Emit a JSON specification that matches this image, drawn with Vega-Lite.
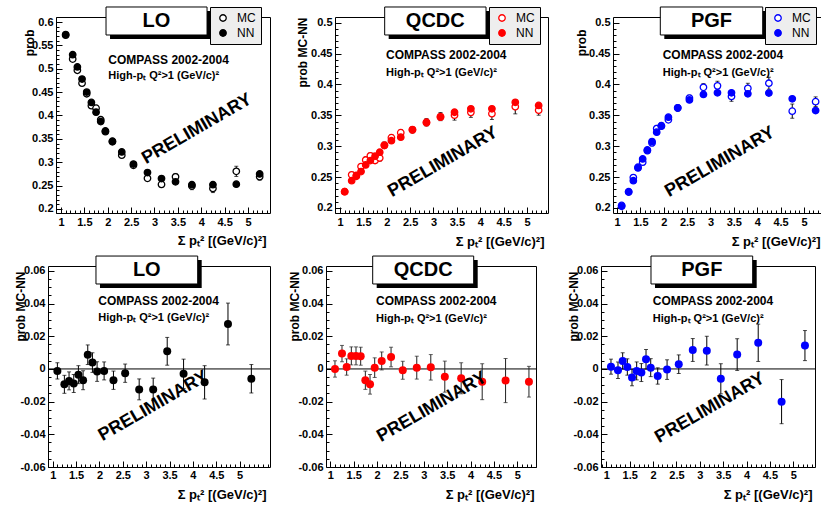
{
"$schema": "https://vega.github.io/schema/vega-lite/v6.json",
"padding": {"left": 13, "top": 5, "right": 0, "bottom": 0},
"background": "white",
"config": {
 "view": {"stroke": "black", "strokeWidth": 1},
 "font": "Liberation Sans",
 "axis": {"format": "~g", "tickColor": "black", "tickWidth": 1, "labelPadding": 9, "labelFont": "Liberation Sans", "labelFontWeight": "bold", "labelFontSize": 11, "labelColor": "black", "labelFlush": false, "domain": false, "grid": false, "titleFont": "Liberation Sans", "titleFontWeight": "bold", "titleColor": "black", "titleBaseline": "middle", "titleAlign": "right"},
 "axisX": {"titleFontSize": 13, "labelPadding": 9},
 "axisY": {"titleFontSize": 12, "titleAngle": 270}
},
"datasets": {
"lo": [
{"x":1.1,"s":"MC","v":0.5718,"e":0.0043},{"x":1.25,"s":"MC","v":0.5206,"e":0.0047},{"x":1.35,"s":"MC","v":0.4967,"e":0.0047},{"x":1.45,"s":"MC","v":0.4691,"e":0.0047},{"x":1.55,"s":"MC","v":0.4465,"e":0.0047},{"x":1.65,"s":"MC","v":0.4211,"e":0.0049},{"x":1.75,"s":"MC","v":0.4157,"e":0.0051},{"x":1.85,"s":"MC","v":0.3909,"e":0.0051},{"x":1.95,"s":"MC","v":0.3654,"e":0.0051},{"x":2.1,"s":"MC","v":0.3438,"e":0.0047},{"x":2.3,"s":"MC","v":0.3151,"e":0.0048},{"x":2.55,"s":"MC","v":0.2934,"e":0.0048},{"x":2.85,"s":"MC","v":0.2655,"e":0.0054},{"x":3.15,"s":"MC","v":0.2525,"e":0.0059},{"x":3.45,"s":"MC","v":0.2688,"e":0.0072},{"x":3.8,"s":"MC","v":0.249,"e":0.0077},{"x":4.25,"s":"MC","v":0.2438,"e":0.0087},{"x":4.75,"s":"MC","v":0.2805,"e":0.0109},{"x":5.25,"s":"MC","v":0.269,"e":0.0074},
{"x":1.1,"s":"NN","v":0.573},{"x":1.25,"s":"NN","v":0.53},{"x":1.35,"s":"NN","v":0.504},{"x":1.45,"s":"NN","v":0.478},{"x":1.55,"s":"NN","v":0.45},{"x":1.65,"s":"NN","v":0.428},{"x":1.75,"s":"NN","v":0.407},{"x":1.85,"s":"NN","v":0.387},{"x":1.95,"s":"NN","v":0.367},{"x":2.1,"s":"NN","v":0.345},{"x":2.3,"s":"NN","v":0.322},{"x":2.55,"s":"NN","v":0.296},{"x":2.85,"s":"NN","v":0.278},{"x":3.15,"s":"NN","v":0.265},{"x":3.45,"s":"NN","v":0.258},{"x":3.8,"s":"NN","v":0.252},{"x":4.25,"s":"NN","v":0.252},{"x":4.75,"s":"NN","v":0.253},{"x":5.25,"s":"NN","v":0.275}
],
"qcdc": [
{"x":1.1,"s":"MC","v":0.2265,"e":0.0043},{"x":1.25,"s":"MC","v":0.2537,"e":0.0043},{"x":1.35,"s":"MC","v":0.2526,"e":0.0043},{"x":1.45,"s":"MC","v":0.267,"e":0.0047},{"x":1.55,"s":"MC","v":0.2777,"e":0.0047},{"x":1.65,"s":"MC","v":0.2845,"e":0.0047},{"x":1.75,"s":"MC","v":0.2769,"e":0.0048},{"x":1.85,"s":"MC","v":0.2809,"e":0.0051},{"x":1.95,"s":"MC","v":0.3018,"e":0.0051},{"x":2.1,"s":"MC","v":0.3139,"e":0.0047},{"x":2.3,"s":"MC","v":0.3219,"e":0.0051},{"x":2.55,"s":"MC","v":0.3262,"e":0.0047},{"x":2.85,"s":"MC","v":0.3388,"e":0.006},{"x":3.15,"s":"MC","v":0.348,"e":0.0066},{"x":3.45,"s":"MC","v":0.3503,"e":0.0081},{"x":3.8,"s":"MC","v":0.3548,"e":0.0081},{"x":4.25,"s":"MC","v":0.3527,"e":0.0094},{"x":4.75,"s":"MC","v":0.3639,"e":0.0115},{"x":5.25,"s":"MC","v":0.3582,"e":0.008},
{"x":1.1,"s":"NN","v":0.2265},{"x":1.25,"s":"NN","v":0.2443},{"x":1.35,"s":"NN","v":0.2514},{"x":1.45,"s":"NN","v":0.259},{"x":1.55,"s":"NN","v":0.2697},{"x":1.65,"s":"NN","v":0.2767},{"x":1.75,"s":"NN","v":0.2838},{"x":1.85,"s":"NN","v":0.2903},{"x":1.95,"s":"NN","v":0.301},{"x":2.1,"s":"NN","v":0.309},{"x":2.3,"s":"NN","v":0.3146},{"x":2.55,"s":"NN","v":0.327},{"x":2.85,"s":"NN","v":0.338},{"x":3.15,"s":"NN","v":0.347},{"x":3.45,"s":"NN","v":0.355},{"x":3.8,"s":"NN","v":0.3605},{"x":4.25,"s":"NN","v":0.3605},{"x":4.75,"s":"NN","v":0.371},{"x":5.25,"s":"NN","v":0.366}
],
"pgf": [
{"x":1.1,"s":"MC","v":0.2041,"e":0.0039},{"x":1.25,"s":"MC","v":0.2257,"e":0.0043},{"x":1.35,"s":"MC","v":0.2492,"e":0.0043},{"x":1.45,"s":"MC","v":0.2661,"e":0.0043},{"x":1.55,"s":"MC","v":0.2742,"e":0.0043},{"x":1.65,"s":"MC","v":0.2928,"e":0.0047},{"x":1.75,"s":"MC","v":0.3054,"e":0.0047},{"x":1.85,"s":"MC","v":0.3286,"e":0.0051},{"x":1.95,"s":"MC","v":0.3332,"e":0.0047},{"x":2.1,"s":"MC","v":0.3427,"e":0.0043},{"x":2.3,"s":"MC","v":0.3618,"e":0.0051},{"x":2.55,"s":"MC","v":0.3779,"e":0.0048},{"x":2.85,"s":"MC","v":0.3954,"e":0.006},{"x":3.15,"s":"MC","v":0.3977,"e":0.0075},{"x":3.45,"s":"MC","v":0.3805,"e":0.0078},{"x":3.8,"s":"MC","v":0.3937,"e":0.0082},{"x":4.25,"s":"MC","v":0.402,"e":0.0097},{"x":4.75,"s":"MC","v":0.3568,"e":0.0115},{"x":5.25,"s":"MC","v":0.3721,"e":0.0078},
{"x":1.1,"s":"NN","v":0.2027},{"x":1.25,"s":"NN","v":0.2265},{"x":1.35,"s":"NN","v":0.2443},{"x":1.45,"s":"NN","v":0.2649},{"x":1.55,"s":"NN","v":0.2795},{"x":1.65,"s":"NN","v":0.294},{"x":1.75,"s":"NN","v":0.3076},{"x":1.85,"s":"NN","v":0.3227},{"x":1.95,"s":"NN","v":0.3324},{"x":2.1,"s":"NN","v":0.347},{"x":2.3,"s":"NN","v":0.3622},{"x":2.55,"s":"NN","v":0.375},{"x":2.85,"s":"NN","v":0.3838},{"x":3.15,"s":"NN","v":0.3865},{"x":3.45,"s":"NN","v":0.3865},{"x":3.8,"s":"NN","v":0.3849},{"x":4.25,"s":"NN","v":0.386},{"x":4.75,"s":"NN","v":0.3768},{"x":5.25,"s":"NN","v":0.3578}
],
"lod": [
{"x":1.1,"d":-0.0012,"e":0.005},{"x":1.25,"d":-0.0094,"e":0.0055},{"x":1.35,"d":-0.0073,"e":0.0055},{"x":1.45,"d":-0.0089,"e":0.0055},{"x":1.55,"d":-0.0035,"e":0.0055},{"x":1.65,"d":-0.0069,"e":0.0058},{"x":1.75,"d":0.0087,"e":0.006},{"x":1.85,"d":0.0039,"e":0.006},{"x":1.95,"d":-0.0016,"e":0.006},{"x":2.1,"d":-0.0012,"e":0.0055},{"x":2.3,"d":-0.0069,"e":0.0056},{"x":2.55,"d":-0.0026,"e":0.0056},{"x":2.85,"d":-0.0125,"e":0.0064},{"x":3.15,"d":-0.0125,"e":0.0069},{"x":3.45,"d":0.0108,"e":0.0085},{"x":3.8,"d":-0.003,"e":0.009},{"x":4.25,"d":-0.0082,"e":0.0102},{"x":4.75,"d":0.0275,"e":0.0128},{"x":5.25,"d":-0.006,"e":0.0087}
],
"qcdcd": [
{"x":1.1,"d":0.0,"e":0.005},{"x":1.25,"d":0.0094,"e":0.005},{"x":1.35,"d":0.0012,"e":0.005},{"x":1.45,"d":0.008,"e":0.0055},{"x":1.55,"d":0.008,"e":0.0055},{"x":1.65,"d":0.0078,"e":0.0055},{"x":1.75,"d":-0.0069,"e":0.0056},{"x":1.85,"d":-0.0094,"e":0.006},{"x":1.95,"d":0.0008,"e":0.006},{"x":2.1,"d":0.0049,"e":0.0055},{"x":2.3,"d":0.0073,"e":0.006},{"x":2.55,"d":-0.0008,"e":0.0055},{"x":2.85,"d":0.0008,"e":0.007},{"x":3.15,"d":0.001,"e":0.0078},{"x":3.45,"d":-0.0047,"e":0.0095},{"x":3.8,"d":-0.0057,"e":0.0095},{"x":4.25,"d":-0.0078,"e":0.011},{"x":4.75,"d":-0.0071,"e":0.0135},{"x":5.25,"d":-0.0078,"e":0.0094}
],
"pgfd": [
{"x":1.1,"d":0.0014,"e":0.0046},{"x":1.25,"d":-0.0008,"e":0.005},{"x":1.35,"d":0.0049,"e":0.005},{"x":1.45,"d":0.0012,"e":0.005},{"x":1.55,"d":-0.0053,"e":0.005},{"x":1.65,"d":-0.0012,"e":0.0055},{"x":1.75,"d":-0.0022,"e":0.0055},{"x":1.85,"d":0.0059,"e":0.006},{"x":1.95,"d":0.0008,"e":0.0055},{"x":2.1,"d":-0.0043,"e":0.005},{"x":2.3,"d":-0.0004,"e":0.006},{"x":2.55,"d":0.0029,"e":0.0057},{"x":2.85,"d":0.0116,"e":0.007},{"x":3.15,"d":0.0112,"e":0.0088},{"x":3.45,"d":-0.006,"e":0.0092},{"x":3.8,"d":0.0088,"e":0.0097},{"x":4.25,"d":0.016,"e":0.0114},{"x":4.75,"d":-0.02,"e":0.0135},{"x":5.25,"d":0.0143,"e":0.0092}
]
},
"spacing": 6,
"resolve": {"scale": {"fill": "independent"}, "legend": {"fill": "independent"}},
"vconcat": [
{"bounds": "flush", "spacing": 0, "resolve": {"scale": {"fill": "independent"}, "legend": {"fill": "independent"}},
 "hconcat": [
 {"width": 8, "height": 196, "data": {"values": []}, "mark": "point", "encoding": {}, "view": {"stroke": null}},
 {"width": 214, "height": 196, "data": {"name": "lo"},
   "resolve": {"axis": {"x": "independent", "y": "independent"}},
   "layer": [
    {"transform": [{"filter": "datum.s == 'MC'"}],
     "mark": {"type": "errorbar", "color": "black", "thickness": 1, "ticks": {"size": 4}},
     "encoding": {"x": {"field": "x", "type": "quantitative", "scale": {"domain": [0.893, 5.471], "nice": false, "zero": false},
                        "axis": {"orient": "bottom", "values": [0.9,1,1.1,1.2,1.3,1.4,1.5,1.6,1.7,1.8,1.9,2,2.1,2.2,2.3,2.4,2.5,2.6,2.7,2.8,2.9,3,3.1,3.2,3.3,3.4,3.5,3.6,3.7,3.8,3.9,4,4.1,4.2,4.3,4.4,4.5,4.6,4.7,4.8,4.9,5,5.1,5.2,5.3,5.4], "labels": false, "title": null, "tickSize": -3}},
                  "y": {"field": "v", "type": "quantitative", "scale": {"domain": [0.1914, 0.6107], "nice": false, "zero": false},
                        "axis": {"orient": "left", "values": [0.2,0.21,0.22,0.23,0.24,0.25,0.26,0.27,0.28,0.29,0.3,0.31,0.32,0.33,0.34,0.35,0.36,0.37,0.38,0.39,0.4,0.41,0.42,0.43,0.44,0.45,0.46,0.47,0.48,0.49,0.5,0.51,0.52,0.53,0.54,0.55,0.56,0.57,0.58,0.59,0.6,0.61], "labels": false, "title": null, "tickSize": -3}},
                  "yError": {"field": "e"}}},
    {"mark": {"type": "point", "shape": "circle", "filled": true, "stroke": "black", "strokeWidth": 1.3, "size": 42, "opacity": 1},
     "encoding": {
      "x": {"field": "x", "type": "quantitative", "title": "Σ pₜ² [(GeV/c)²]", "scale": {"domain": [0.893, 5.471], "nice": false, "zero": false},
            "axis": {"orient": "bottom", "values": [1,1.5,2,2.5,3,3.5,4,4.5,5], "tickSize": -6, "titleX": 210, "titleY": 27}},
      "y": {"field": "v", "type": "quantitative", "title": "prob", "scale": {"domain": [0.1914, 0.6107], "nice": false, "zero": false},
            "axis": {"orient": "left", "values": [0.2,0.25,0.3,0.35,0.4,0.45,0.5,0.55,0.6], "tickSize": -6, "titleX": -27, "titleY": 12}},
      "fill": {"field": "s", "type": "nominal", "scale": {"domain": ["MC", "NN"], "range": ["white", "black"]},
               "legend": {"orient": "none", "legendX": 154, "legendY": -10, "title": null, "symbolType": "circle", "symbolSize": 42, "symbolStrokeColor": "black", "symbolStrokeWidth": 1.3, "labelFont": "Liberation Sans", "labelFontSize": 12, "labelColor": "black", "labelExpr": "datum.label + '\u00a0\u00a0\u00a0\u00a0\u00a0\u00a0'", "fillColor": "#eeeeee", "strokeColor": "black", "padding": 5, "rowPadding": 3, "labelOffset": 8, "symbolOffset": 2}}}},
    {"data": {"values": [{}]}, "mark": {"type": "rect", "fill": "black", "xOffset": 4, "x2Offset": 4, "yOffset": 4, "y2Offset": 4},
     "encoding": {"x": {"datum": 1.963, "type": "quantitative", "axis": null, "scale": {"domain": [0.893, 5.471], "nice": false, "zero": false}}, "x2": {"datum": 4.124}, "y": {"datum": 0.6321, "type": "quantitative", "axis": null, "scale": {"domain": [0.1914, 0.6107], "nice": false, "zero": false}}, "y2": {"datum": 0.5722}}},
    {"data": {"values": [{}]}, "mark": {"type": "rect", "fill": "white", "stroke": "black", "strokeWidth": 1},
     "encoding": {"x": {"datum": 1.963, "type": "quantitative", "axis": null, "scale": {"domain": [0.893, 5.471], "nice": false, "zero": false}}, "x2": {"datum": 4.124}, "y": {"datum": 0.6321, "type": "quantitative", "axis": null, "scale": {"domain": [0.1914, 0.6107], "nice": false, "zero": false}}, "y2": {"datum": 0.5722}}},
    {"data": {"values": [{}]}, "mark": {"type": "text", "font": "Liberation Sans", "fontWeight": "bold", "fontSize": 20, "color": "black", "align": "center", "baseline": "middle"},
     "encoding": {"x": {"datum": 3.043, "type": "quantitative", "axis": null, "scale": {"domain": [0.893, 5.471], "nice": false, "zero": false}}, "y": {"datum": 0.6021, "type": "quantitative", "axis": null, "scale": {"domain": [0.1914, 0.6107], "nice": false, "zero": false}}, "text": {"value": "LO"}}},
    {"data": {"values": [{}]}, "mark": {"type": "text", "font": "Liberation Sans", "fontWeight": "bold", "fontSize": 12, "color": "black", "align": "left", "baseline": "middle"},
     "encoding": {"x": {"datum": 2.012, "type": "quantitative", "axis": null, "scale": {"domain": [0.893, 5.471], "nice": false, "zero": false}}, "y": {"datum": 0.518, "type": "quantitative", "axis": null, "scale": {"domain": [0.1914, 0.6107], "nice": false, "zero": false}}, "text": {"value": "COMPASS 2002-2004"}}},
    {"data": {"values": [{}]}, "mark": {"type": "text", "font": "Liberation Sans", "fontWeight": "bold", "fontSize": 11, "color": "black", "align": "left", "baseline": "middle"},
     "encoding": {"x": {"datum": 2.012, "type": "quantitative", "axis": null, "scale": {"domain": [0.893, 5.471], "nice": false, "zero": false}}, "y": {"datum": 0.4845, "type": "quantitative", "axis": null, "scale": {"domain": [0.1914, 0.6107], "nice": false, "zero": false}}, "text": {"value": "High-pₜ Q²>1 (GeV/c)²"}}},
    {"data": {"values": [{}]}, "mark": {"type": "text", "font": "Liberation Sans", "fontWeight": "bold", "fontSize": 18, "color": "black", "align": "center", "baseline": "middle", "angle": 330},
     "encoding": {"x": {"datum": 3.91, "type": "quantitative", "axis": null, "scale": {"domain": [0.893, 5.471], "nice": false, "zero": false}}, "y": {"datum": 0.371, "type": "quantitative", "axis": null, "scale": {"domain": [0.1914, 0.6107], "nice": false, "zero": false}}, "text": {"value": "PRELIMINARY"}}}
   ]},
 {"width": 65, "height": 196, "data": {"values": []}, "mark": "point", "encoding": {}, "view": {"stroke": null}},
 {"width": 213, "height": 196, "data": {"name": "qcdc"},
   "resolve": {"axis": {"x": "independent", "y": "independent"}},
   "layer": [
    {"transform": [{"filter": "datum.s == 'MC'"}],
     "mark": {"type": "errorbar", "color": "black", "thickness": 1, "ticks": {"size": 4}},
     "encoding": {"x": {"field": "x", "type": "quantitative", "scale": {"domain": [0.893, 5.45], "nice": false, "zero": false},
                        "axis": {"orient": "bottom", "values": [0.9,1,1.1,1.2,1.3,1.4,1.5,1.6,1.7,1.8,1.9,2,2.1,2.2,2.3,2.4,2.5,2.6,2.7,2.8,2.9,3,3.1,3.2,3.3,3.4,3.5,3.6,3.7,3.8,3.9,4,4.1,4.2,4.3,4.4,4.5,4.6,4.7,4.8,4.9,5,5.1,5.2,5.3,5.4], "labels": false, "title": null, "tickSize": -3}},
                  "y": {"field": "v", "type": "quantitative", "scale": {"domain": [0.1919, 0.5092], "nice": false, "zero": false},
                        "axis": {"orient": "left", "values": [0.2,0.21,0.22,0.23,0.24,0.25,0.26,0.27,0.28,0.29,0.3,0.31,0.32,0.33,0.34,0.35,0.36,0.37,0.38,0.39,0.4,0.41,0.42,0.43,0.44,0.45,0.46,0.47,0.48,0.49,0.5], "labels": false, "title": null, "tickSize": -3}},
                  "yError": {"field": "e"}}},
    {"mark": {"type": "point", "shape": "circle", "filled": true, "stroke": "#ff0000", "strokeWidth": 1.3, "size": 42, "opacity": 1},
     "encoding": {
      "x": {"field": "x", "type": "quantitative", "title": "Σ pₜ² [(GeV/c)²]", "scale": {"domain": [0.893, 5.45], "nice": false, "zero": false},
            "axis": {"orient": "bottom", "values": [1,1.5,2,2.5,3,3.5,4,4.5,5], "tickSize": -6, "titleX": 209, "titleY": 28}},
      "y": {"field": "v", "type": "quantitative", "title": "prob MC-NN", "scale": {"domain": [0.1919, 0.5092], "nice": false, "zero": false},
            "axis": {"orient": "left", "values": [0.2,0.25,0.3,0.35,0.4,0.45,0.5], "tickSize": -6, "titleX": -33, "titleY": 0}},
      "fill": {"field": "s", "type": "nominal", "scale": {"domain": ["MC", "NN"], "range": ["white", "#ff0000"]},
               "legend": {"orient": "none", "legendX": 154, "legendY": -10, "title": null, "symbolType": "circle", "symbolSize": 42, "symbolStrokeColor": "#ff0000", "symbolStrokeWidth": 1.3, "labelFont": "Liberation Sans", "labelFontSize": 12, "labelColor": "black", "labelExpr": "datum.label + '\u00a0\u00a0\u00a0\u00a0\u00a0\u00a0'", "fillColor": "#eeeeee", "strokeColor": "black", "padding": 5, "rowPadding": 3, "labelOffset": 8, "symbolOffset": 2}}}},
    {"data": {"values": [{}]}, "mark": {"type": "rect", "fill": "black", "xOffset": 4, "x2Offset": 4, "yOffset": 4, "y2Offset": 4},
     "encoding": {"x": {"datum": 1.956, "type": "quantitative", "axis": null, "scale": {"domain": [0.893, 5.45], "nice": false, "zero": false}}, "x2": {"datum": 4.124}, "y": {"datum": 0.5254, "type": "quantitative", "axis": null, "scale": {"domain": [0.1919, 0.5092], "nice": false, "zero": false}}, "y2": {"datum": 0.4801}}},
    {"data": {"values": [{}]}, "mark": {"type": "rect", "fill": "white", "stroke": "black", "strokeWidth": 1},
     "encoding": {"x": {"datum": 1.956, "type": "quantitative", "axis": null, "scale": {"domain": [0.893, 5.45], "nice": false, "zero": false}}, "x2": {"datum": 4.124}, "y": {"datum": 0.5254, "type": "quantitative", "axis": null, "scale": {"domain": [0.1919, 0.5092], "nice": false, "zero": false}}, "y2": {"datum": 0.4801}}},
    {"data": {"values": [{}]}, "mark": {"type": "text", "font": "Liberation Sans", "fontWeight": "bold", "fontSize": 20, "color": "black", "align": "center", "baseline": "middle"},
     "encoding": {"x": {"datum": 3.039, "type": "quantitative", "axis": null, "scale": {"domain": [0.893, 5.45], "nice": false, "zero": false}}, "y": {"datum": 0.5027, "type": "quantitative", "axis": null, "scale": {"domain": [0.1919, 0.5092], "nice": false, "zero": false}}, "text": {"value": "QCDC"}}},
    {"data": {"values": [{}]}, "mark": {"type": "text", "font": "Liberation Sans", "fontWeight": "bold", "fontSize": 12, "color": "black", "align": "left", "baseline": "middle"},
     "encoding": {"x": {"datum": 1.984, "type": "quantitative", "axis": null, "scale": {"domain": [0.893, 5.45], "nice": false, "zero": false}}, "y": {"datum": 0.4472, "type": "quantitative", "axis": null, "scale": {"domain": [0.1919, 0.5092], "nice": false, "zero": false}}, "text": {"value": "COMPASS 2002-2004"}}},
    {"data": {"values": [{}]}, "mark": {"type": "text", "font": "Liberation Sans", "fontWeight": "bold", "fontSize": 11, "color": "black", "align": "left", "baseline": "middle"},
     "encoding": {"x": {"datum": 1.984, "type": "quantitative", "axis": null, "scale": {"domain": [0.893, 5.45], "nice": false, "zero": false}}, "y": {"datum": 0.419, "type": "quantitative", "axis": null, "scale": {"domain": [0.1919, 0.5092], "nice": false, "zero": false}}, "text": {"value": "High-pₜ Q²>1 (GeV/c)²"}}},
    {"data": {"values": [{}]}, "mark": {"type": "text", "font": "Liberation Sans", "fontWeight": "bold", "fontSize": 18, "color": "black", "align": "center", "baseline": "middle", "angle": 330},
     "encoding": {"x": {"datum": 3.204, "type": "quantitative", "axis": null, "scale": {"domain": [0.893, 5.45], "nice": false, "zero": false}}, "y": {"datum": 0.2745, "type": "quantitative", "axis": null, "scale": {"domain": [0.1919, 0.5092], "nice": false, "zero": false}}, "text": {"value": "PRELIMINARY"}}}
   ]},
 {"width": 65, "height": 196, "data": {"values": []}, "mark": "point", "encoding": {}, "view": {"stroke": null}},
 {"width": 208, "height": 196, "data": {"name": "pgf"},
   "resolve": {"axis": {"x": "independent", "y": "independent"}},
   "layer": [
    {"transform": [{"filter": "datum.s == 'MC'"}],
     "mark": {"type": "errorbar", "color": "black", "thickness": 1, "ticks": {"size": 4}},
     "encoding": {"x": {"field": "x", "type": "quantitative", "scale": {"domain": [0.915, 5.365], "nice": false, "zero": false},
                        "axis": {"orient": "bottom", "values": [1,1.1,1.2,1.3,1.4,1.5,1.6,1.7,1.8,1.9,2,2.1,2.2,2.3,2.4,2.5,2.6,2.7,2.8,2.9,3,3.1,3.2,3.3,3.4,3.5,3.6,3.7,3.8,3.9,4,4.1,4.2,4.3,4.4,4.5,4.6,4.7,4.8,4.9,5,5.1,5.2,5.3], "labels": false, "title": null, "tickSize": -3}},
                  "y": {"field": "v", "type": "quantitative", "scale": {"domain": [0.1919, 0.5092], "nice": false, "zero": false},
                        "axis": {"orient": "left", "values": [0.2,0.21,0.22,0.23,0.24,0.25,0.26,0.27,0.28,0.29,0.3,0.31,0.32,0.33,0.34,0.35,0.36,0.37,0.38,0.39,0.4,0.41,0.42,0.43,0.44,0.45,0.46,0.47,0.48,0.49,0.5], "labels": false, "title": null, "tickSize": -3}},
                  "yError": {"field": "e"}}},
    {"mark": {"type": "point", "shape": "circle", "filled": true, "stroke": "#0000ff", "strokeWidth": 1.3, "size": 42, "opacity": 1},
     "encoding": {
      "x": {"field": "x", "type": "quantitative", "title": "Σ pₜ² [(GeV/c)²]", "scale": {"domain": [0.915, 5.365], "nice": false, "zero": false},
            "axis": {"orient": "bottom", "values": [1,1.5,2,2.5,3,3.5,4,4.5,5], "tickSize": -6, "titleX": 207, "titleY": 28}},
      "y": {"field": "v", "type": "quantitative", "title": "prob", "scale": {"domain": [0.1919, 0.5092], "nice": false, "zero": false},
            "axis": {"orient": "left", "values": [0.2,0.25,0.3,0.35,0.4,0.45,0.5], "tickSize": -6, "titleX": -32, "titleY": 12}},
      "fill": {"field": "s", "type": "nominal", "scale": {"domain": ["MC", "NN"], "range": ["white", "#0000ff"]},
               "legend": {"orient": "none", "legendX": 152, "legendY": -10, "title": null, "symbolType": "circle", "symbolSize": 42, "symbolStrokeColor": "#0000ff", "symbolStrokeWidth": 1.3, "labelFont": "Liberation Sans", "labelFontSize": 12, "labelColor": "black", "labelExpr": "datum.label + '\u00a0\u00a0\u00a0\u00a0\u00a0\u00a0'", "fillColor": "#eeeeee", "strokeColor": "black", "padding": 5, "rowPadding": 3, "labelOffset": 8, "symbolOffset": 2}}}},
    {"data": {"values": [{}]}, "mark": {"type": "rect", "fill": "black", "xOffset": 4, "x2Offset": 4, "yOffset": 4, "y2Offset": 4},
     "encoding": {"x": {"datum": 1.927, "type": "quantitative", "axis": null, "scale": {"domain": [0.915, 5.365], "nice": false, "zero": false}}, "x2": {"datum": 4.118}, "y": {"datum": 0.5254, "type": "quantitative", "axis": null, "scale": {"domain": [0.1919, 0.5092], "nice": false, "zero": false}}, "y2": {"datum": 0.4801}}},
    {"data": {"values": [{}]}, "mark": {"type": "rect", "fill": "white", "stroke": "black", "strokeWidth": 1},
     "encoding": {"x": {"datum": 1.927, "type": "quantitative", "axis": null, "scale": {"domain": [0.915, 5.365], "nice": false, "zero": false}}, "x2": {"datum": 4.118}, "y": {"datum": 0.5254, "type": "quantitative", "axis": null, "scale": {"domain": [0.1919, 0.5092], "nice": false, "zero": false}}, "y2": {"datum": 0.4801}}},
    {"data": {"values": [{}]}, "mark": {"type": "text", "font": "Liberation Sans", "fontWeight": "bold", "fontSize": 20, "color": "black", "align": "center", "baseline": "middle"},
     "encoding": {"x": {"datum": 3.022, "type": "quantitative", "axis": null, "scale": {"domain": [0.915, 5.365], "nice": false, "zero": false}}, "y": {"datum": 0.5027, "type": "quantitative", "axis": null, "scale": {"domain": [0.1919, 0.5092], "nice": false, "zero": false}}, "text": {"value": "PGF"}}},
    {"data": {"values": [{}]}, "mark": {"type": "text", "font": "Liberation Sans", "fontWeight": "bold", "fontSize": 12, "color": "black", "align": "left", "baseline": "middle"},
     "encoding": {"x": {"datum": 1.978, "type": "quantitative", "axis": null, "scale": {"domain": [0.915, 5.365], "nice": false, "zero": false}}, "y": {"datum": 0.4472, "type": "quantitative", "axis": null, "scale": {"domain": [0.1919, 0.5092], "nice": false, "zero": false}}, "text": {"value": "COMPASS 2002-2004"}}},
    {"data": {"values": [{}]}, "mark": {"type": "text", "font": "Liberation Sans", "fontWeight": "bold", "fontSize": 11, "color": "black", "align": "left", "baseline": "middle"},
     "encoding": {"x": {"datum": 1.978, "type": "quantitative", "axis": null, "scale": {"domain": [0.915, 5.365], "nice": false, "zero": false}}, "y": {"datum": 0.419, "type": "quantitative", "axis": null, "scale": {"domain": [0.1919, 0.5092], "nice": false, "zero": false}}, "text": {"value": "High-pₜ Q²>1 (GeV/c)²"}}},
    {"data": {"values": [{}]}, "mark": {"type": "text", "font": "Liberation Sans", "fontWeight": "bold", "fontSize": 18, "color": "black", "align": "center", "baseline": "middle", "angle": 330},
     "encoding": {"x": {"datum": 3.204, "type": "quantitative", "axis": null, "scale": {"domain": [0.915, 5.365], "nice": false, "zero": false}}, "y": {"datum": 0.2745, "type": "quantitative", "axis": null, "scale": {"domain": [0.1919, 0.5092], "nice": false, "zero": false}}, "text": {"value": "PRELIMINARY"}}}
   ]}
 ]},
{"bounds": "flush", "spacing": 0,
 "hconcat": [
 {"width": 222, "height": 201, "data": {"name": "lod"},
   "resolve": {"axis": {"x": "independent", "y": "independent"}},
   "layer": [
    {"data": {"values": [{}]}, "mark": {"type": "rule", "color": "black", "strokeWidth": 1},
     "encoding": {"y": {"datum": 0, "type": "quantitative", "axis": null, "scale": {"domain": [-0.06, 0.063], "nice": false, "zero": false}}}},
    {"mark": {"type": "errorbar", "color": "black", "thickness": 1, "ticks": {"size": 4}},
     "encoding": {"x": {"field": "x", "type": "quantitative", "scale": {"domain": [0.8994, 5.649], "nice": false, "zero": false},
                        "axis": {"orient": "bottom", "values": [0.9,1,1.1,1.2,1.3,1.4,1.5,1.6,1.7,1.8,1.9,2,2.1,2.2,2.3,2.4,2.5,2.6,2.7,2.8,2.9,3,3.1,3.2,3.3,3.4,3.5,3.6,3.7,3.8,3.9,4,4.1,4.2,4.3,4.4,4.5,4.6,4.7,4.8,4.9,5,5.1,5.2,5.3,5.4,5.5,5.6], "labels": false, "title": null, "tickSize": -3}},
                  "y": {"field": "d", "type": "quantitative", "scale": {"domain": [-0.06, 0.063], "nice": false, "zero": false},
                        "axis": {"orient": "left", "values": [-0.055,-0.05,-0.045,-0.04,-0.035,-0.03,-0.025,-0.02,-0.015,-0.01,-0.005,0,0.005,0.01,0.015,0.02,0.025,0.03,0.035,0.04,0.045,0.05,0.055,0.06], "labels": false, "title": null, "tickSize": -3}},
                  "yError": {"field": "e"}}},
    {"mark": {"type": "circle", "color": "black", "size": 64, "opacity": 1},
     "encoding": {
      "x": {"field": "x", "type": "quantitative", "title": "Σ pₜ² [(GeV/c)²]", "scale": {"domain": [0.8994, 5.649], "nice": false, "zero": false},
            "axis": {"orient": "bottom", "values": [1,1.5,2,2.5,3,3.5,4,4.5,5], "tickSize": -6, "labelPadding": 8, "titleX": 218, "titleY": 27}},
      "y": {"field": "d", "type": "quantitative", "title": "prob MC-NN", "scale": {"domain": [-0.06, 0.063], "nice": false, "zero": false},
            "axis": {"orient": "left", "values": [-0.06,-0.04,-0.02,0,0.02,0.04,0.06], "tickSize": -6, "labelExpr": "replace(datum.label, '\u2212', '-')", "titleX": -28, "titleY": 5}}}},
    {"data": {"values": [{}]}, "mark": {"type": "rect", "fill": "black", "xOffset": 4, "x2Offset": 4, "yOffset": 4, "y2Offset": 4},
     "encoding": {"x": {"datum": 1.926, "type": "quantitative", "axis": null, "scale": {"domain": [0.8994, 5.649], "nice": false, "zero": false}}, "x2": {"datum": 4.102}, "y": {"datum": 0.0691, "type": "quantitative", "axis": null, "scale": {"domain": [-0.06, 0.063], "nice": false, "zero": false}}, "y2": {"datum": 0.052}}},
    {"data": {"values": [{}]}, "mark": {"type": "rect", "fill": "white", "stroke": "black", "strokeWidth": 1},
     "encoding": {"x": {"datum": 1.926, "type": "quantitative", "axis": null, "scale": {"domain": [0.8994, 5.649], "nice": false, "zero": false}}, "x2": {"datum": 4.102}, "y": {"datum": 0.0691, "type": "quantitative", "axis": null, "scale": {"domain": [-0.06, 0.063], "nice": false, "zero": false}}, "y2": {"datum": 0.052}}},
    {"data": {"values": [{}]}, "mark": {"type": "text", "font": "Liberation Sans", "fontWeight": "bold", "fontSize": 20, "color": "black", "align": "center", "baseline": "middle"},
     "encoding": {"x": {"datum": 3.013, "type": "quantitative", "axis": null, "scale": {"domain": [0.8994, 5.649], "nice": false, "zero": false}}, "y": {"datum": 0.0606, "type": "quantitative", "axis": null, "scale": {"domain": [-0.06, 0.063], "nice": false, "zero": false}}, "text": {"value": "LO"}}},
    {"data": {"values": [{}]}, "mark": {"type": "text", "font": "Liberation Sans", "fontWeight": "bold", "fontSize": 12, "color": "black", "align": "left", "baseline": "middle"},
     "encoding": {"x": {"datum": 1.976, "type": "quantitative", "axis": null, "scale": {"domain": [0.8994, 5.649], "nice": false, "zero": false}}, "y": {"datum": 0.0416, "type": "quantitative", "axis": null, "scale": {"domain": [-0.06, 0.063], "nice": false, "zero": false}}, "text": {"value": "COMPASS 2002-2004"}}},
    {"data": {"values": [{}]}, "mark": {"type": "text", "font": "Liberation Sans", "fontWeight": "bold", "fontSize": 11, "color": "black", "align": "left", "baseline": "middle"},
     "encoding": {"x": {"datum": 1.976, "type": "quantitative", "axis": null, "scale": {"domain": [0.8994, 5.649], "nice": false, "zero": false}}, "y": {"datum": 0.0314, "type": "quantitative", "axis": null, "scale": {"domain": [-0.06, 0.063], "nice": false, "zero": false}}, "text": {"value": "High-pₜ Q²>1 (GeV/c)²"}}},
    {"data": {"values": [{}]}, "mark": {"type": "text", "font": "Liberation Sans", "fontWeight": "bold", "fontSize": 18, "color": "black", "align": "center", "baseline": "middle", "angle": 330},
     "encoding": {"x": {"datum": 3.157, "type": "quantitative", "axis": null, "scale": {"domain": [0.8994, 5.649], "nice": false, "zero": false}}, "y": {"datum": -0.0227, "type": "quantitative", "axis": null, "scale": {"domain": [-0.06, 0.063], "nice": false, "zero": false}}, "text": {"value": "PRELIMINARY"}}}
   ]},
 {"width": 56, "height": 201, "data": {"values": []}, "mark": "point", "encoding": {}, "view": {"stroke": null}},
 {"width": 210, "height": 201, "data": {"name": "qcdcd"},
    "resolve": {"axis": {"x": "independent", "y": "independent"}},
    "layer": [
     {"data": {"values": [{}]}, "mark": {"type": "rule", "color": "black", "strokeWidth": 1},
      "encoding": {"y": {"datum": 0, "type": "quantitative", "axis": null, "scale": {"domain": [-0.06, 0.063], "nice": false, "zero": false}}}},
     {"mark": {"type": "errorbar", "color": "#222222", "thickness": 1, "ticks": {"size": 4}},
      "encoding": {"x": {"field": "x", "type": "quantitative", "scale": {"domain": [0.908, 5.401], "nice": false, "zero": false},
                         "axis": {"orient": "bottom", "values": [1,1.1,1.2,1.3,1.4,1.5,1.6,1.7,1.8,1.9,2,2.1,2.2,2.3,2.4,2.5,2.6,2.7,2.8,2.9,3,3.1,3.2,3.3,3.4,3.5,3.6,3.7,3.8,3.9,4,4.1,4.2,4.3,4.4,4.5,4.6,4.7,4.8,4.9,5,5.1,5.2,5.3,5.4], "labels": false, "title": null, "tickSize": -3}},
                   "y": {"field": "d", "type": "quantitative", "scale": {"domain": [-0.06, 0.063], "nice": false, "zero": false},
                         "axis": {"orient": "left", "values": [-0.055,-0.05,-0.045,-0.04,-0.035,-0.03,-0.025,-0.02,-0.015,-0.01,-0.005,0,0.005,0.01,0.015,0.02,0.025,0.03,0.035,0.04,0.045,0.05,0.055,0.06], "labels": false, "title": null, "tickSize": -3}},
                   "yError": {"field": "e"}}},
     {"mark": {"type": "circle", "color": "#ff0000", "size": 64, "opacity": 1},
      "encoding": {
       "x": {"field": "x", "type": "quantitative", "title": "Σ pₜ² [(GeV/c)²]", "scale": {"domain": [0.908, 5.401], "nice": false, "zero": false},
             "axis": {"orient": "bottom", "values": [1,1.5,2,2.5,3,3.5,4,4.5,5], "tickSize": -6, "labelPadding": 8, "titleX": 208, "titleY": 27}},
       "y": {"field": "d", "type": "quantitative", "title": "prob MC-NN", "scale": {"domain": [-0.06, 0.063], "nice": false, "zero": false},
             "axis": {"orient": "left", "values": [-0.06,-0.04,-0.02,0,0.02,0.04,0.06], "tickSize": -6, "labelExpr": "replace(datum.label, '\u2212', '-')", "titleX": -32, "titleY": 5}}}},
     {"data": {"values": [{}]}, "mark": {"type": "rect", "fill": "black", "xOffset": 4, "x2Offset": 4, "yOffset": 4, "y2Offset": 4},
      "encoding": {"x": {"datum": 1.907, "type": "quantitative", "axis": null, "scale": {"domain": [0.908, 5.401], "nice": false, "zero": false}}, "x2": {"datum": 4.068}, "y": {"datum": 0.0691, "type": "quantitative", "axis": null, "scale": {"domain": [-0.06, 0.063], "nice": false, "zero": false}}, "y2": {"datum": 0.052}}},
     {"data": {"values": [{}]}, "mark": {"type": "rect", "fill": "white", "stroke": "black", "strokeWidth": 1},
      "encoding": {"x": {"datum": 1.907, "type": "quantitative", "axis": null, "scale": {"domain": [0.908, 5.401], "nice": false, "zero": false}}, "x2": {"datum": 4.068}, "y": {"datum": 0.0691, "type": "quantitative", "axis": null, "scale": {"domain": [-0.06, 0.063], "nice": false, "zero": false}}, "y2": {"datum": 0.052}}},
     {"data": {"values": [{}]}, "mark": {"type": "text", "font": "Liberation Sans", "fontWeight": "bold", "fontSize": 20, "color": "black", "align": "center", "baseline": "middle"},
      "encoding": {"x": {"datum": 2.988, "type": "quantitative", "axis": null, "scale": {"domain": [0.908, 5.401], "nice": false, "zero": false}}, "y": {"datum": 0.0606, "type": "quantitative", "axis": null, "scale": {"domain": [-0.06, 0.063], "nice": false, "zero": false}}, "text": {"value": "QCDC"}}},
     {"data": {"values": [{}]}, "mark": {"type": "text", "font": "Liberation Sans", "fontWeight": "bold", "fontSize": 12, "color": "black", "align": "left", "baseline": "middle"},
      "encoding": {"x": {"datum": 1.978, "type": "quantitative", "axis": null, "scale": {"domain": [0.908, 5.401], "nice": false, "zero": false}}, "y": {"datum": 0.0416, "type": "quantitative", "axis": null, "scale": {"domain": [-0.06, 0.063], "nice": false, "zero": false}}, "text": {"value": "COMPASS 2002-2004"}}},
     {"data": {"values": [{}]}, "mark": {"type": "text", "font": "Liberation Sans", "fontWeight": "bold", "fontSize": 11, "color": "black", "align": "left", "baseline": "middle"},
      "encoding": {"x": {"datum": 1.978, "type": "quantitative", "axis": null, "scale": {"domain": [0.908, 5.401], "nice": false, "zero": false}}, "y": {"datum": 0.0306, "type": "quantitative", "axis": null, "scale": {"domain": [-0.06, 0.063], "nice": false, "zero": false}}, "text": {"value": "High-pₜ Q²>1 (GeV/c)²"}}},
     {"data": {"values": [{}]}, "mark": {"type": "text", "font": "Liberation Sans", "fontWeight": "bold", "fontSize": 18, "color": "black", "align": "center", "baseline": "middle", "angle": 330},
      "encoding": {"x": {"datum": 3.176, "type": "quantitative", "axis": null, "scale": {"domain": [0.908, 5.401], "nice": false, "zero": false}}, "y": {"datum": -0.0233, "type": "quantitative", "axis": null, "scale": {"domain": [-0.06, 0.063], "nice": false, "zero": false}}, "text": {"value": "PRELIMINARY"}}}
    ]},
 {"width": 65, "height": 201, "data": {"values": []}, "mark": "point", "encoding": {}, "view": {"stroke": null}},
 {"width": 214, "height": 201, "data": {"name": "pgfd"},
    "resolve": {"axis": {"x": "independent", "y": "independent"}},
    "layer": [
     {"data": {"values": [{}]}, "mark": {"type": "rule", "color": "black", "strokeWidth": 1},
      "encoding": {"y": {"datum": 0, "type": "quantitative", "axis": null, "scale": {"domain": [-0.06, 0.063], "nice": false, "zero": false}}}},
     {"mark": {"type": "errorbar", "color": "black", "thickness": 1, "ticks": {"size": 4}},
      "encoding": {"x": {"field": "x", "type": "quantitative", "scale": {"domain": [0.8866, 5.465], "nice": false, "zero": false},
                         "axis": {"orient": "bottom", "values": [0.9,1,1.1,1.2,1.3,1.4,1.5,1.6,1.7,1.8,1.9,2,2.1,2.2,2.3,2.4,2.5,2.6,2.7,2.8,2.9,3,3.1,3.2,3.3,3.4,3.5,3.6,3.7,3.8,3.9,4,4.1,4.2,4.3,4.4,4.5,4.6,4.7,4.8,4.9,5,5.1,5.2,5.3,5.4], "labels": false, "title": null, "tickSize": -3}},
                   "y": {"field": "d", "type": "quantitative", "scale": {"domain": [-0.06, 0.063], "nice": false, "zero": false},
                         "axis": {"orient": "left", "values": [-0.055,-0.05,-0.045,-0.04,-0.035,-0.03,-0.025,-0.02,-0.015,-0.01,-0.005,0,0.005,0.01,0.015,0.02,0.025,0.03,0.035,0.04,0.045,0.05,0.055,0.06], "labels": false, "title": null, "tickSize": -3}},
                   "yError": {"field": "e"}}},
     {"mark": {"type": "circle", "color": "#0000ff", "size": 64, "opacity": 1},
      "encoding": {
       "x": {"field": "x", "type": "quantitative", "title": "Σ pₜ² [(GeV/c)²]", "scale": {"domain": [0.8866, 5.465], "nice": false, "zero": false},
             "axis": {"orient": "bottom", "values": [1,1.5,2,2.5,3,3.5,4,4.5,5], "tickSize": -6, "labelPadding": 8, "titleX": 211, "titleY": 27}},
       "y": {"field": "d", "type": "quantitative", "title": "prob MC-NN", "scale": {"domain": [-0.06, 0.063], "nice": false, "zero": false},
             "axis": {"orient": "left", "values": [-0.06,-0.04,-0.02,0,0.02,0.04,0.06], "tickSize": -6, "labelExpr": "replace(datum.label, '\u2212', '-')", "titleX": -28, "titleY": 5}}}},
     {"data": {"values": [{}]}, "mark": {"type": "rect", "fill": "black", "xOffset": 4, "x2Offset": 4, "yOffset": 4, "y2Offset": 4},
      "encoding": {"x": {"datum": 1.956, "type": "quantitative", "axis": null, "scale": {"domain": [0.8866, 5.465], "nice": false, "zero": false}}, "x2": {"datum": 4.132}, "y": {"datum": 0.0691, "type": "quantitative", "axis": null, "scale": {"domain": [-0.06, 0.063], "nice": false, "zero": false}}, "y2": {"datum": 0.052}}},
     {"data": {"values": [{}]}, "mark": {"type": "rect", "fill": "white", "stroke": "black", "strokeWidth": 1},
      "encoding": {"x": {"datum": 1.956, "type": "quantitative", "axis": null, "scale": {"domain": [0.8866, 5.465], "nice": false, "zero": false}}, "x2": {"datum": 4.132}, "y": {"datum": 0.0691, "type": "quantitative", "axis": null, "scale": {"domain": [-0.06, 0.063], "nice": false, "zero": false}}, "y2": {"datum": 0.052}}},
     {"data": {"values": [{}]}, "mark": {"type": "text", "font": "Liberation Sans", "fontWeight": "bold", "fontSize": 20, "color": "black", "align": "center", "baseline": "middle"},
      "encoding": {"x": {"datum": 3.043, "type": "quantitative", "axis": null, "scale": {"domain": [0.8866, 5.465], "nice": false, "zero": false}}, "y": {"datum": 0.0606, "type": "quantitative", "axis": null, "scale": {"domain": [-0.06, 0.063], "nice": false, "zero": false}}, "text": {"value": "PGF"}}},
     {"data": {"values": [{}]}, "mark": {"type": "text", "font": "Liberation Sans", "fontWeight": "bold", "fontSize": 12, "color": "black", "align": "left", "baseline": "middle"},
      "encoding": {"x": {"datum": 1.993, "type": "quantitative", "axis": null, "scale": {"domain": [0.8866, 5.465], "nice": false, "zero": false}}, "y": {"datum": 0.0416, "type": "quantitative", "axis": null, "scale": {"domain": [-0.06, 0.063], "nice": false, "zero": false}}, "text": {"value": "COMPASS 2002-2004"}}},
     {"data": {"values": [{}]}, "mark": {"type": "text", "font": "Liberation Sans", "fontWeight": "bold", "fontSize": 11, "color": "black", "align": "left", "baseline": "middle"},
      "encoding": {"x": {"datum": 1.993, "type": "quantitative", "axis": null, "scale": {"domain": [0.8866, 5.465], "nice": false, "zero": false}}, "y": {"datum": 0.0306, "type": "quantitative", "axis": null, "scale": {"domain": [-0.06, 0.063], "nice": false, "zero": false}}, "text": {"value": "High-pₜ Q²>1 (GeV/c)²"}}},
     {"data": {"values": [{}]}, "mark": {"type": "text", "font": "Liberation Sans", "fontWeight": "bold", "fontSize": 18, "color": "black", "align": "center", "baseline": "middle", "angle": 330},
      "encoding": {"x": {"datum": 3.219, "type": "quantitative", "axis": null, "scale": {"domain": [0.8866, 5.465], "nice": false, "zero": false}}, "y": {"datum": -0.0239, "type": "quantitative", "axis": null, "scale": {"domain": [-0.06, 0.063], "nice": false, "zero": false}}, "text": {"value": "PRELIMINARY"}}}
    ]}
 ]}
]
}
